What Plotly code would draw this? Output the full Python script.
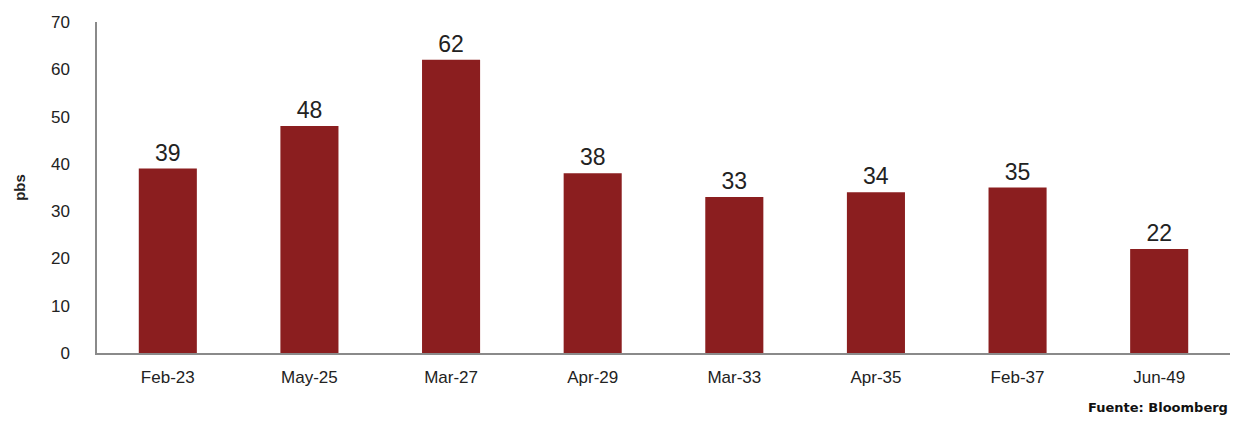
import plotly.graph_objects as go

categories = ["Feb-23", "May-25", "Mar-27", "Apr-29", "Mar-33", "Apr-35", "Feb-37", "Jun-49"]
values = [39, 48, 62, 38, 33, 34, 35, 22]
y_ticks = [0, 10, 20, 30, 40, 50, 60, 70]

fig = go.Figure(go.Bar(
    x=categories, y=values,
    marker=dict(color="#8B1E1F", line=dict(width=0)),
    text=[str(v) for v in values], textposition="outside",
    textfont=dict(family="Liberation Sans, Arial", size=23, color="#222"),
    cliponaxis=False,
))

fig.update_layout(
    width=1222, height=408,
    margin=dict(l=89, r=0, t=14, b=63),
    paper_bgcolor="white", plot_bgcolor="white",
    bargap=0.59, showlegend=False,
    font=dict(family="Liberation Sans, Arial", color="#222"),
    xaxis=dict(showline=True, linecolor="#8a8a8a", linewidth=1.5, showgrid=False,
               ticks="", tickfont=dict(size=17), ticklabelstandoff=8),
    yaxis=dict(range=[0, 70], tickvals=y_ticks, showline=True, linecolor="#8a8a8a", linewidth=1.5,
               showgrid=False, zeroline=False, ticks="", tickfont=dict(size=17),
               ticklabelstandoff=22,
               title=dict(text="<b>pbs</b>", font=dict(size=15), standoff=22)),
    annotations=[dict(text="<b>Fuente: Bloomberg</b>", xref="paper", yref="paper", x=1, y=0,
                      xanchor="right", yanchor="middle", xshift=0, yshift=-54,
                      showarrow=False,
                      font=dict(family="DejaVu Sans", size=13, color="#111"))],
)

fig.write_html("out.html")
